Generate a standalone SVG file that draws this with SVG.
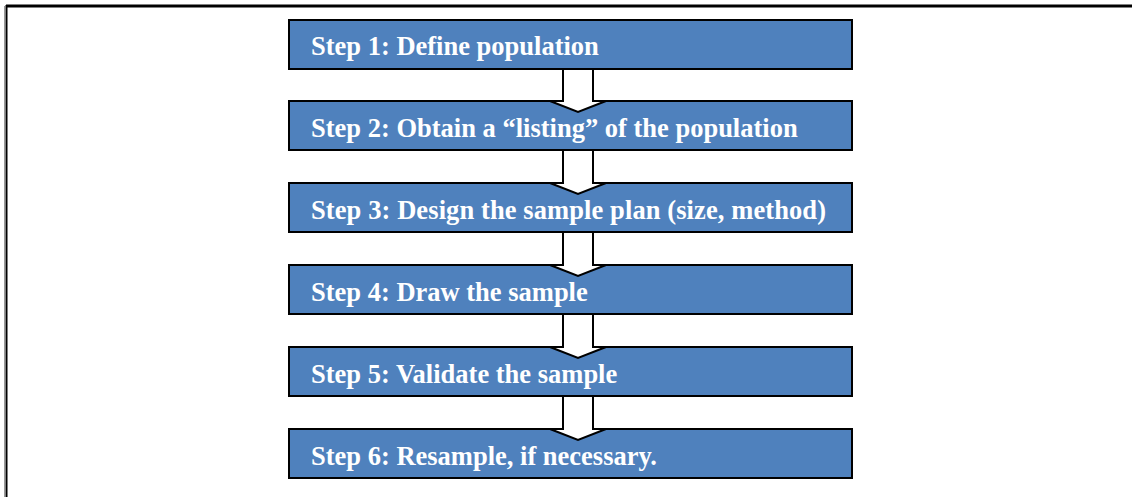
<svg xmlns="http://www.w3.org/2000/svg" width="1132" height="497" viewBox="0 0 1132 497">
  <style>
    .step rect { fill: #4F81BD; stroke: #000; stroke-width: 2; }
    .step text { fill: #fff; font-family: "Liberation Serif", "Times New Roman", serif; font-weight: bold; font-size: 26.5px; }
    .arrow { fill: #fff; stroke: #000; stroke-width: 2; stroke-linejoin: miter; }
  </style>
  <rect width="1132" height="497" fill="#fff"/>
  <!-- page frame -->
  <g id="frame">
    <line x1="4.5" y1="6" x2="4.5" y2="497" stroke="#999" stroke-width="1"/>
    <line x1="6.5" y1="5" x2="6.5" y2="497" stroke="#000" stroke-width="2"/>
    <line x1="6" y1="6" x2="1132" y2="6" stroke="#000" stroke-width="3"/>
  </g>

  <g id="step1" class="step">
    <rect x="289" y="20" width="563" height="49"/>
    <text x="311" y="55">Step 1: Define population</text>
  </g>
  <g id="step2" class="step">
    <rect x="289" y="101" width="563" height="49"/>
    <text x="311" y="137">Step 2: Obtain a “listing” of the population</text>
  </g>
  <g id="step3" class="step">
    <rect x="289" y="183" width="563" height="49"/>
    <text x="311" y="219" textLength="515">Step 3: Design the sample plan (size, method)</text>
  </g>
  <g id="step4" class="step">
    <rect x="289" y="265" width="563" height="49"/>
    <text x="311" y="301">Step 4: Draw the sample</text>
  </g>
  <g id="step5" class="step">
    <rect x="289" y="347" width="563" height="49"/>
    <text x="311" y="383">Step 5: Validate the sample</text>
  </g>
  <g id="step6" class="step">
    <rect x="289" y="429" width="563" height="49"/>
    <text x="311" y="465">Step 6: Resample, if necessary.</text>
  </g>

  <!-- block arrows between steps -->
  <g id="connectors">
    <path class="arrow" d="M563,69 L563,101 L550,101 L578,112 L606,101 L593,101 L593,69 Z"/>
    <path class="arrow" d="M563,150 L563,183 L550,183 L578,194 L606,183 L593,183 L593,150 Z"/>
    <path class="arrow" d="M563,232 L563,265 L550,265 L578,276 L606,265 L593,265 L593,232 Z"/>
    <path class="arrow" d="M563,314 L563,347 L550,347 L578,358 L606,347 L593,347 L593,314 Z"/>
    <path class="arrow" d="M563,396 L563,429 L550,429 L578,440 L606,429 L593,429 L593,396 Z"/>
  </g>
</svg>
